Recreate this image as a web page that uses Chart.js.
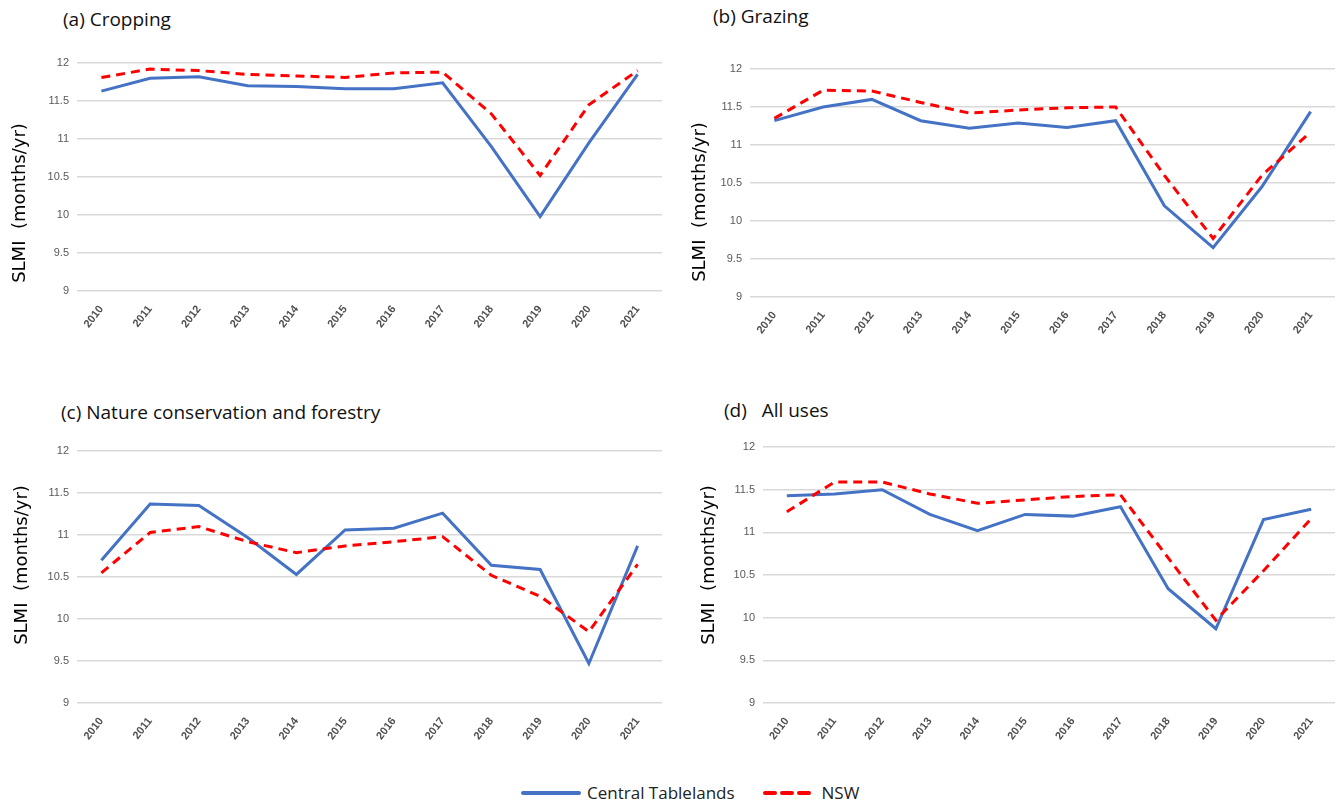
<!DOCTYPE html>
<html>
<head>
<meta charset="utf-8">
<script src="https://cdn.jsdelivr.net/npm/chart.js@4.4.0/dist/chart.umd.min.js"></script>
<style>
  html, body { margin: 0; padding: 0; background: #fff; }
  body { width: 1340px; height: 807px; position: relative; overflow: hidden; font-family: "Open Sans", "Liberation Sans", sans-serif; }
  .panel { position: absolute; }
  .ptitle { position: absolute; font-size: 19px; color: #111; white-space: pre; font-family: "Open Sans", sans-serif; }
  .ytitle { position: absolute; font-size: 18px; color: #000; white-space: pre; font-family: "DejaVu Sans", sans-serif;
            transform: translate(-50%, -50%) rotate(-90deg); line-height: 1; z-index: 2; }
  .legend { position: absolute; top: 781px; left: 520px; font-size: 17px; color: #222; display: flex; align-items: center; white-space: nowrap; }
  .legend svg { display: block; }
</style>
</head>
<body>
<div class="ptitle" style="left:63px; top:6px;">(a) Cropping</div>
<div class="ptitle" style="left:713px; top:3px;">(b) Grazing</div>
<div class="ptitle" style="left:61px; top:399px;">(c) Nature conservation and forestry</div>
<div class="ptitle" style="left:724px; top:397px;">(d)&nbsp;&nbsp; All uses</div>

<div class="ytitle" style="left:19px; top:203px;">SLMI  (months/yr)</div>
<div class="ytitle" style="left:699px; top:202px;">SLMI  (months/yr)</div>
<div class="ytitle" style="left:21px; top:565px;">SLMI  (months/yr)</div>
<div class="ytitle" style="left:708px; top:565px;">SLMI  (months/yr)</div>

<div class="panel" style="left:0px; top:40px; width:670px; height:290px;"><canvas id="cA"></canvas></div>
<div class="panel" style="left:680px; top:40px; width:660px; height:300px;"><canvas id="cB"></canvas></div>
<div class="panel" style="left:0px; top:430px; width:670px; height:310px;"><canvas id="cC"></canvas></div>
<div class="panel" style="left:680px; top:430px; width:660px; height:310px;"><canvas id="cD"></canvas></div>

<div class="legend">
  <svg width="62" height="10"><line x1="3" y1="5" x2="59" y2="5" stroke="#4472C4" stroke-width="4" stroke-linecap="round"/></svg>
  <span style="margin-left:5px;">Central Tablelands</span>
  <svg width="58" height="10" style="margin-left:26px;"><line x1="4" y1="5" x2="54" y2="5" stroke="#FF0000" stroke-width="4" stroke-dasharray="10,7" stroke-linecap="round"/></svg>
  <span style="margin-left:3px;">NSW</span>
</div>

<script>
const years = ["2010","2011","2012","2013","2014","2015","2016","2017","2018","2019","2020","2021"];
const yTicks = [9, 9.5, 10, 10.5, 11, 11.5, 12];
const seriesNames = ["Central Tablelands", "NSW"];

const croppingCT  = [11.63, 11.80, 11.82, 11.70, 11.69, 11.66, 11.66, 11.74, 10.90, 9.98, 10.95, 11.85];
const croppingNSW = [11.81, 11.92, 11.90, 11.85, 11.83, 11.81, 11.87, 11.88, 11.33, 10.52, 11.45, 11.90];

const grazingCT  = [11.32, 11.50, 11.60, 11.32, 11.22, 11.29, 11.23, 11.32, 10.20, 9.65, 10.45, 11.44];
const grazingNSW = [11.35, 11.72, 11.71, 11.56, 11.42, 11.46, 11.49, 11.50, 10.60, 9.77, 10.60, 11.17];

const natureCT  = [10.70, 11.37, 11.35, 10.97, 10.53, 11.06, 11.08, 11.26, 10.64, 10.59, 9.47, 10.87];
const natureNSW = [10.55, 11.03, 11.10, 10.92, 10.79, 10.87, 10.92, 10.98, 10.52, 10.27, 9.85, 10.65];

const allCT  = [11.43, 11.45, 11.50, 11.21, 11.02, 11.21, 11.19, 11.30, 10.34, 9.87, 11.15, 11.27];
const allNSW = [11.24, 11.59, 11.59, 11.45, 11.34, 11.38, 11.42, 11.44, 10.70, 9.97, 10.55, 11.16];

Chart.defaults.animation = false;
Chart.defaults.responsive = true;
Chart.defaults.maintainAspectRatio = false;

function makeChart(id, ct, nsw, box) {
  const el = document.getElementById(id);
  const W = el.parentElement.clientWidth, H = el.parentElement.clientHeight;
  new Chart(el, {
    type: 'line',
    data: {
      labels: years,
      datasets: [
        { label: seriesNames[0], data: ct, borderColor: '#4472C4', backgroundColor: '#4472C4',
          borderWidth: 3, pointRadius: 0, tension: 0, order: 2 },
        { label: seriesNames[1], data: nsw, borderColor: '#FF0000', backgroundColor: '#FF0000',
          borderWidth: 3, borderDash: [9, 6], pointRadius: 0, tension: 0, order: 1 }
      ]
    },
    options: {
      layout: { padding: { top: box.top, right: W - box.right, left: 0, bottom: 0 } },
      plugins: { legend: { display: false }, tooltip: { enabled: false } },
      scales: {
        x: {
          offset: true,
          grid: { display: false },
          border: { display: false },
          ticks: { color: '#505050', font: { family: 'Liberation Sans', size: 11, weight: 'bold' },
                   minRotation: 52, maxRotation: 52, padding: 4 },
          afterFit: s => { s.height = H - box.bottom; }
        },
        y: {
          min: 9, max: 12,
          afterBuildTicks: s => { s.ticks = yTicks.map(v => ({ value: v })); },
          grid: { color: '#d9d9d9', lineWidth: 1.5, drawTicks: false },
          border: { display: false },
          ticks: { color: '#595959', font: { family: 'Liberation Sans Narrow, Liberation Sans', size: 11 }, padding: 8,
                   callback: v => String(v) },
          title: { display: false },
          afterFit: s => { s.width = box.left; }
        }
      }
    }
  });
}

makeChart('cA', croppingCT, croppingNSW, { left: 77, top: 23, right: 662, bottom: 251 });
makeChart('cB', grazingCT, grazingNSW, { left: 70, top: 29, right: 655, bottom: 257 });
makeChart('cC', natureCT, natureNSW, { left: 77, top: 21, right: 662, bottom: 273 });
makeChart('cD', allCT, allNSW, { left: 83, top: 17, right: 655, bottom: 273 });
</script>
</body>
</html>
